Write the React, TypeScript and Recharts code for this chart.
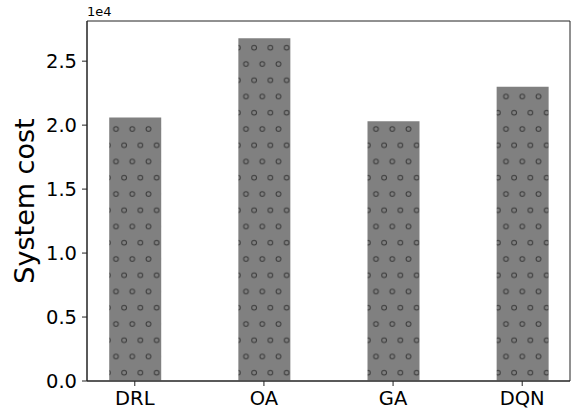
import React from 'react';
import { BarChart, Bar, XAxis, YAxis, ReferenceArea } from 'recharts';

const methods = ['DRL', 'OA', 'GA', 'DQN'];
const costs = [20600, 26800, 20300, 23000];
const yTicks = [0, 5000, 10000, 15000, 20000, 25000];
const xTicks = [0, 1, 2, 3];

const data = methods.map((name, i) => ({ x: i, name, cost: costs[i] }));

const Y_MAX = 28140;
const X_DOMAIN: [number, number] = [-0.37, 3.37];
const FONT = '"DejaVu Sans", sans-serif';
const AXIS_COLOR = '#222';

export default function App() {
    return (
        <div style={{ position: 'absolute', left: 0, top: 0, width: 577, height: 413, background: '#fff' }}>
            <BarChart
                width={577}
                height={413}
                data={data}
                margin={{ top: 21, right: 7, bottom: 0, left: 0 }}
                style={{ fontFamily: FONT }}
            >
                <defs>
                    {/* matplotlib-like 'o' hatch on grey */}
                    <pattern id="circleHatch" patternUnits="userSpaceOnUse" x={104} y={121} width={16.25} height={32.5}>
                        <rect width={16.25} height={32.5} fill="#808080" />
                        <circle cx={12} cy={8} r={2.4} fill="none" stroke="#3a3a3a" strokeWidth={1} />
                        <circle cx={3.875} cy={24.25} r={2.4} fill="none" stroke="#3a3a3a" strokeWidth={1} />
                    </pattern>
                </defs>
                <XAxis
                    dataKey="x"
                    type="number"
                    domain={X_DOMAIN}
                    ticks={xTicks}
                    tickFormatter={(v: number) => methods[v]}
                    height={32}
                    tickSize={5}
                    tickMargin={5}
                    stroke={AXIS_COLOR}
                    tick={{ fill: '#000', fontSize: 19.5, fontFamily: FONT }}
                    tickLine={{ stroke: AXIS_COLOR }}
                    axisLine={{ stroke: AXIS_COLOR }}
                />
                <YAxis
                    type="number"
                    domain={[0, Y_MAX]}
                    ticks={yTicks}
                    tickFormatter={(v: number) => (v / 10000).toFixed(1)}
                    width={87}
                    tickSize={5}
                    tickMargin={5}
                    tick={{ fill: '#000', fontSize: 19.5, fontFamily: FONT }}
                    tickLine={{ stroke: AXIS_COLOR }}
                    axisLine={{ stroke: AXIS_COLOR }}
                />
                <Bar dataKey="cost" fill="url(#circleHatch)" barSize={52} isAnimationActive={false} />
                {/* plot frame (top/right spines) */}
                <ReferenceArea
                    x1={X_DOMAIN[0]}
                    x2={X_DOMAIN[1]}
                    y1={0}
                    y2={Y_MAX}
                    fill="none"
                    stroke={AXIS_COLOR}
                    strokeWidth={1}
                    ifOverflow="visible"
                />
                <text
                    x={33.5}
                    y={201}
                    transform="rotate(-90 33.5 201)"
                    textAnchor="middle"
                    fontSize={27}
                    fontFamily={FONT}
                    fill="#000"
                >
                    System cost
                </text>
                <text x={87} y={16} fontSize={13} fontFamily={FONT} fill="#000">
                    1e4
                </text>
            </BarChart>
        </div>
    );
}
